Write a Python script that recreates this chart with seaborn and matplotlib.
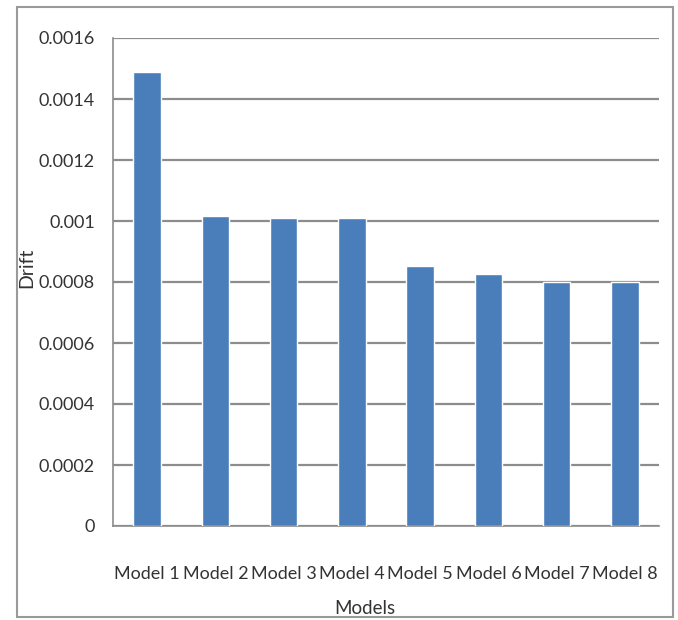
#!/usr/bin/env python3
"""Drift per model, Excel-style column chart."""

import matplotlib
matplotlib.use("Agg")
import matplotlib.pyplot as plt
import seaborn as sns
import pandas as pd
from matplotlib.patches import Rectangle

# --- data ---
models = ["Model 1", "Model 2", "Model 3", "Model 4",
          "Model 5", "Model 6", "Model 7", "Model 8"]
drift = [0.001489, 0.001016, 0.001010, 0.001010,
         0.000852, 0.000826, 0.000800, 0.000800]
y_ticks = [0, 0.0002, 0.0004, 0.0006, 0.0008, 0.001, 0.0012, 0.0014, 0.0016]
y_tick_labels = ["0", "0.0002", "0.0004", "0.0006", "0.0008",
                 "0.001", "0.0012", "0.0014", "0.0016"]

BAR_COLOR = "#4a7ebb"
GRID_COLOR = "#8c8c8c"
TEXT_COLOR = "#333333"

sns.set_style("white")
plt.rcParams["font.family"] = ["Lato", "DejaVu Sans"]

df = pd.DataFrame({"Models": models, "Drift": drift})

fig = plt.figure(figsize=(6.78, 6.2), dpi=100)
ax = fig.add_axes([113 / 678, 1 - 526 / 620, (659 - 113) / 678, (526 - 38) / 620])

sns.barplot(data=df, x="Models", y="Drift", color=BAR_COLOR, width=0.4,
            saturation=1, ax=ax, zorder=3)

ax.set_ylim(0, 0.0016)
ax.set_xlim(-0.5, len(models) - 0.5)
ax.set_yticks(y_ticks)
ax.set_yticklabels(y_tick_labels)
ax.yaxis.grid(True, color=GRID_COLOR, linewidth=1.6, zorder=0)
ax.set_axisbelow(True)

# spines like Excel: only left and bottom axis lines
for side in ("top", "right"):
    ax.spines[side].set_visible(False)
for side in ("left", "bottom"):
    ax.spines[side].set_color(GRID_COLOR)
    ax.spines[side].set_linewidth(1.2)

# category boundary ticks on x, outside ticks on y
ax.set_xticks(range(len(models)))
ax.set_xticklabels(models)
ax.set_xticks([i - 0.5 for i in range(len(models) + 1)], minor=True)
ax.tick_params(axis="x", which="major", length=0, pad=29,
               labelsize=13, labelcolor=TEXT_COLOR)
ax.tick_params(axis="x", which="minor", length=6, width=1.2,
               color=GRID_COLOR, direction="out")
ax.tick_params(axis="y", length=6, width=1.2, color=GRID_COLOR,
               direction="out", pad=7, labelsize=13, labelcolor=TEXT_COLOR)

ax.set_xlabel("")
ax.set_ylabel("")
fig.text(365 / 678, 1 - 608 / 620, "Models", fontsize=13.5,
         color=TEXT_COLOR, ha="center", va="center")
fig.text(27 / 678, 1 - 268 / 620, "Drift", rotation=90, fontsize=14,
         color=TEXT_COLOR, ha="center", va="center")

# outer chart frame
fig.patches.append(Rectangle((17 / 678, 1 - 617 / 620), (673 - 17) / 678,
                             (617 - 7) / 620, transform=fig.transFigure,
                             fill=False, edgecolor="#9a9a9a", linewidth=1.5))

fig.savefig("out.png", dpi=100, facecolor="white")
